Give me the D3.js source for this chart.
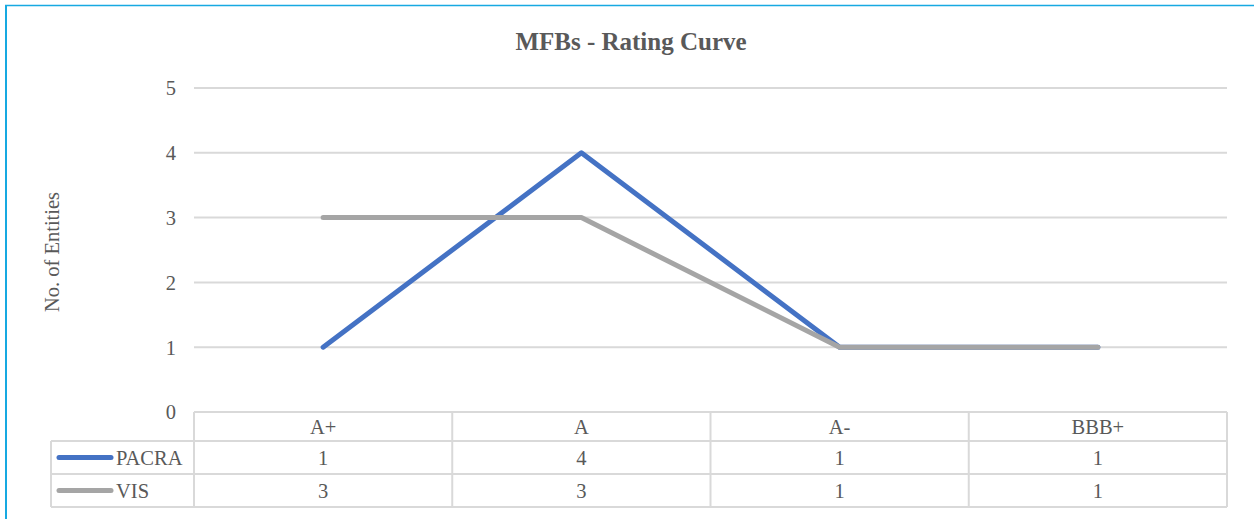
<!DOCTYPE html>
<html>
<head>
<meta charset="utf-8">
<script src="https://cdn.jsdelivr.net/npm/d3@7"></script>
</head>
<body style="margin:0;padding:0;background:#fff">
<svg id="chart" width="1254" height="519" style="display:block"></svg>
<script>
const title = "MFBs - Rating Curve";
const yLabel = "No. of Entities";
const categories = ["A+", "A", "A-", "BBB+"];
const seriesNames = ["PACRA", "VIS"];
const pacra = [1, 4, 1, 1];
const vis = [3, 3, 1, 1];
const yTicks = [0, 1, 2, 3, 4, 5];
const colors = ["#4472C4", "#A5A5A5"];

const series = [
  { name: seriesNames[0], values: pacra, color: colors[0] },
  { name: seriesNames[1], values: vis, color: colors[1] }
];

const FONT = "'Liberation Serif', 'Times New Roman', serif";
const TXT = "#595959";
const svg = d3.select("#chart");
const W = 1254, H = 519;

const plotLeft = 194, plotRight = 1227, plotTop = 88, plotBottom = 412;
const tableLeft = 51;
const rowEdges = [412, 441, 474, 507];
const fs = 20.5;

function styleText(sel, size) {
  return sel.style("font-family", FONT).style("font-size", size + "px").style("fill", TXT);
}

// frame
svg.append("line").attr("x1", 5).attr("x2", W).attr("y1", 5.5).attr("y2", 5.5)
  .attr("stroke", "#17A9E1").attr("stroke-width", 1.5);
svg.append("line").attr("x1", 6).attr("x2", 6).attr("y1", 5).attr("y2", H)
  .attr("stroke", "#17A9E1").attr("stroke-width", 2);

const x = d3.scaleBand().domain(categories).range([plotLeft, plotRight]).padding(0);
const y = d3.scaleLinear().domain([0, 5]).range([plotBottom, plotTop]);

// title
styleText(svg.append("text").attr("x", 631).attr("y", 50).attr("text-anchor", "middle"), 25)
  .style("font-weight", "bold").text(title);

// gridlines
svg.append("g").selectAll("line").data(yTicks.filter(d => d > 0)).join("line")
  .attr("x1", plotLeft).attr("x2", plotRight)
  .attr("y1", d => y(d)).attr("y2", d => y(d))
  .attr("stroke", "#D9D9D9").attr("stroke-width", 2);

// y axis tick labels
const yAxis = d3.axisLeft(y).tickValues(yTicks).tickFormat(d3.format("d")).tickSize(0).tickPadding(0);
const ga = svg.append("g").attr("transform", `translate(176,0)`).call(yAxis);
ga.select(".domain").remove();
styleText(ga.selectAll("text"), fs).attr("dy", "0.34em");

// y label
styleText(svg.append("text").attr("transform", "translate(59,252) rotate(-90)")
  .attr("text-anchor", "middle"), fs).text(yLabel);

// table
const tg = svg.append("g");
const gridC = "#D9D9D9";
tg.append("line").attr("x1", plotLeft).attr("x2", plotRight).attr("y1", rowEdges[0]).attr("y2", rowEdges[0])
  .attr("stroke", gridC).attr("stroke-width", 2);
rowEdges.slice(1).forEach(r => {
  tg.append("line").attr("x1", tableLeft).attr("x2", plotRight).attr("y1", r).attr("y2", r)
    .attr("stroke", gridC).attr("stroke-width", 2);
});
const colEdges = categories.map(c => x(c)).concat([plotRight]);
tg.selectAll("line.v").data(colEdges).join("line").attr("class", "v")
  .attr("x1", d => d).attr("x2", d => d).attr("y1", rowEdges[0]).attr("y2", rowEdges[3])
  .attr("stroke", gridC).attr("stroke-width", 2);
tg.append("line").attr("x1", tableLeft).attr("x2", tableLeft).attr("y1", rowEdges[1]).attr("y2", rowEdges[3])
  .attr("stroke", gridC).attr("stroke-width", 2);

styleText(tg.selectAll("text.h").data(categories).join("text").attr("class", "h")
  .attr("x", d => x(d) + x.bandwidth() / 2).attr("y", (rowEdges[0] + rowEdges[1]) / 2)
  .attr("dy", "0.35em").attr("text-anchor", "middle"), fs).text(d => d);

series.forEach((s, i) => {
  const cy = (rowEdges[i + 1] + rowEdges[i + 2]) / 2;
  styleText(tg.selectAll("text.r" + i).data(s.values).join("text").attr("class", "r" + i)
    .attr("x", (d, j) => x(categories[j]) + x.bandwidth() / 2).attr("y", cy)
    .attr("dy", "0.35em").attr("text-anchor", "middle"), fs).text(d => d);
  tg.append("line").attr("x1", 59).attr("x2", 111).attr("y1", cy).attr("y2", cy)
    .attr("stroke", s.color).attr("stroke-width", 5).attr("stroke-linecap", "round");
  styleText(tg.append("text").attr("x", 116).attr("y", cy).attr("dy", "0.35em"), fs).text(s.name);
});

// lines
const line = d3.line().x((d, j) => x(categories[j]) + x.bandwidth() / 2).y(d => y(d));
series.forEach(s => {
  svg.append("path").datum(s.values).attr("d", line)
    .attr("fill", "none").attr("stroke", s.color).attr("stroke-width", 5)
    .attr("stroke-linecap", "round").attr("stroke-linejoin", "round");
});
</script>
</body>
</html>
